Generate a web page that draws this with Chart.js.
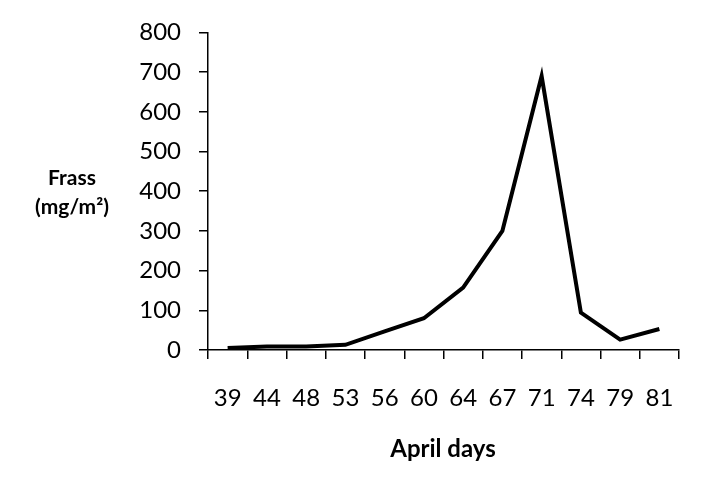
<!DOCTYPE html>
<html>
<head>
<meta charset="utf-8">
<script src="https://cdn.jsdelivr.net/npm/chart.js@4"></script>
<style>
  html, body { margin: 0; padding: 0; background: #fff; }
  #wrap { width: 702px; height: 489px; }
</style>
</head>
<body>
<div id="wrap"><canvas id="frassChart" width="702" height="489"></canvas></div>
<script>
// April days (x categories) and frass values (mg/m²)
const aprilDays = ["39", "44", "48", "53", "56", "60", "64", "67", "71", "74", "79", "81"];
const frassValues = [5, 9, 9, 13, 47, 80, 157, 300, 690, 94, 26, 53];
const yTicks = [0, 100, 200, 300, 400, 500, 600, 700, 800];

const FONT = "Lato, 'Open Sans', sans-serif";

// draws the horizontal y title and the x title
const axisTitles = {
    id: "axisTitles",
    afterDraw(chart) {
        const ctx = chart.ctx;
        ctx.save();
        ctx.fillStyle = "#000";
        ctx.textAlign = "center";
        ctx.textBaseline = "middle";
        ctx.font = "bold 21px " + FONT;
        ctx.fillText("Frass", 72, 178);
        ctx.fillText("(mg/m²)", 72, 207);
        ctx.font = "bold 24px " + FONT;
        ctx.fillText("April days", 443, 449);
        ctx.restore();
    }
};

const ctx = document.getElementById("frassChart").getContext("2d");
new Chart(ctx, {
    type: "line",
    data: {
        labels: aprilDays,
        datasets: [{
            label: "Frass",
            data: frassValues,
            borderColor: "#000",
            borderWidth: 4,
            pointRadius: 0,
            tension: 0,
            fill: false
        }]
    },
    options: {
        responsive: false,
        animation: false,
        layout: {padding: {top: 30, right: 23, left: 0, bottom: 0}},
        plugins: {legend: {display: false}, tooltip: {enabled: false}},
        scales: {
            x: {
                offset: true,
                grid: {offset: true, drawOnChartArea: false, tickLength: 9, color: "#000", lineWidth: 1.5},
                border: {color: "#000", width: 1.5},
                ticks: {color: "#000", font: {family: FONT, size: 24}, padding: 25, maxRotation: 0},
                afterFit(scale) { scale.height = 139; }
            },
            y: {
                min: 0,
                max: 800,
                afterBuildTicks(scale) { scale.ticks = yTicks.map(v => ({value: v})); },
                grid: {drawOnChartArea: false, tickLength: 9, color: "#000", lineWidth: 1.5},
                border: {color: "#000", width: 1.5},
                ticks: {color: "#000", font: {family: FONT, size: 24}, padding: 18},
                afterFit(scale) { scale.width = 208; }
            }
        }
    },
    plugins: [axisTitles]
});
</script>
</body>
</html>
